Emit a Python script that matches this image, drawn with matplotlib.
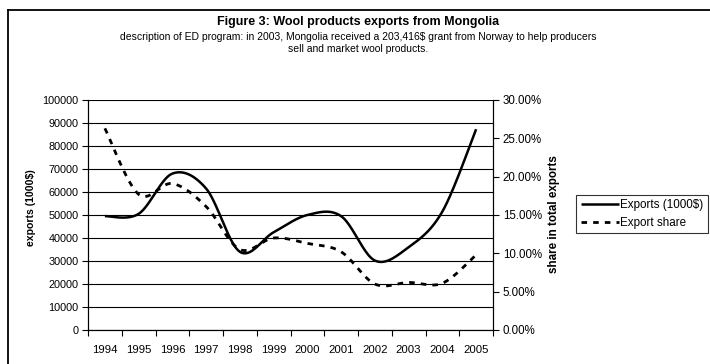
import numpy as np
import matplotlib
matplotlib.use("Agg")
import matplotlib.pyplot as plt
from matplotlib.lines import Line2D
from matplotlib.ticker import FixedLocator, FuncFormatter

plt.rcParams['font.family'] = ['Liberation Sans', 'DejaVu Sans']

years = ['1994', '1995', '1996', '1997', '1998', '1999',
         '2000', '2001', '2002', '2003', '2004', '2005']
exports = [49500, 50500, 68000, 61500, 34000, 42500,
           50000, 49500, 30200, 36000, 51500, 87300]
export_share = [0.263, 0.177, 0.191, 0.161, 0.105, 0.120,
                0.113, 0.102, 0.060, 0.062, 0.061, 0.098]

title = 'Figure 3: Wool products exports from Mongolia'
subtitle = ('description of ED program: in 2003, Mongolia received a 203,416$ grant from Norway to help producers\n'
            'sell and market wool products.')


def smooth(xs, ys, n=40):
    """Catmull-Rom style smoothing through every point (spreadsheet 'smoothed line')."""
    xs = np.asarray(xs, float)
    ys = np.asarray(ys, float)
    px = np.concatenate([[xs[0]], xs, [xs[-1]]])
    py = np.concatenate([[ys[0]], ys, [ys[-1]]])
    out_x, out_y = [], []
    t = np.linspace(0, 1, n)
    for i in range(1, len(px) - 2):
        p0 = np.array([px[i], py[i]])
        p3 = np.array([px[i + 1], py[i + 1]])
        c1 = p0 + (np.array([px[i + 1], py[i + 1]]) - np.array([px[i - 1], py[i - 1]])) / 6
        c2 = p3 - (np.array([px[i + 2], py[i + 2]]) - np.array([px[i], py[i]])) / 6
        b = ((1 - t) ** 3)[:, None] * p0 + (3 * (1 - t) ** 2 * t)[:, None] * c1 \
            + (3 * (1 - t) * t ** 2)[:, None] * c2 + (t ** 3)[:, None] * p3
        out_x.extend(b[:, 0] if i == 1 else b[1:, 0])
        out_y.extend(b[:, 1] if i == 1 else b[1:, 1])
    return np.array(out_x), np.array(out_y)


fig = plt.figure(figsize=(7.1, 3.64), dpi=100)
W, H = 710, 364
ax = fig.add_axes([88 / W, 1 - 330 / H, (493 - 88) / W, (330 - 100) / H])
ax2 = ax.twinx()

xpos = np.arange(len(years)) + 0.5

sx, sy = smooth(xpos, exports)
l1, = ax.plot(sx, sy, color='black', lw=1.8, solid_capstyle='butt', zorder=3)
sx2, sy2 = smooth(xpos, export_share)
l2, = ax2.plot(sx2, sy2, color='black', lw=2.0, dashes=(2.0, 2.2), zorder=3)

ax.set_xlim(0, len(years))
ax.set_ylim(0, 100000)
ax2.set_ylim(0, 0.30)

ax.xaxis.set_major_locator(FixedLocator(np.arange(len(years) + 1)))
ax.xaxis.set_minor_locator(FixedLocator(xpos))
ax.set_xticklabels([])
ax.set_xticklabels(years, minor=True)
ax.tick_params(axis='x', which='major', direction='out', length=4, width=0.8, color='black')
ax.tick_params(axis='x', which='minor', length=0, pad=10.5, labelsize=8.2)

ax.set_yticks(np.arange(0, 100001, 10000))
ax.yaxis.set_major_formatter(FuncFormatter(lambda v, p: f'{int(v)}'))
ax.tick_params(axis='y', direction='out', length=4, width=0.8, labelsize=7.8, pad=3)
ax.grid(axis='y', color='black', lw=0.8)
ax.set_axisbelow(True)

ax2.set_yticks(np.arange(0, 0.301, 0.05))
ax2.yaxis.set_major_formatter(FuncFormatter(lambda v, p: f'{v * 100:.2f}%'))
ax2.tick_params(axis='y', direction='out', length=4, width=0.8, labelsize=8.3, pad=3)

for a in (ax, ax2):
    a.spines['top'].set_visible(False)
    for s in ('left', 'right', 'bottom'):
        a.spines[s].set_linewidth(0.8)
        a.spines[s].set_color('black')

ax.set_ylabel('exports (1000$)', fontsize=7.6, fontweight='bold')
ax.yaxis.set_label_coords(-52 / 405, (330 - 208) / 230)
ax2.set_ylabel('share in total exports', fontsize=8.4, fontweight='bold', rotation=90)
ax2.yaxis.set_label_coords((548 - 88) / 405, (330 - 214) / 230)

fig.text(358 / W, 1 - 22 / H, title, ha='center', va='center', fontsize=9, fontweight='bold')
fig.text(358 / W, 1 - 43.5 / H, subtitle, ha='center', va='center', fontsize=7.5, linespacing=1.25)

leg = fig.legend([l1, l2], ['Exports (1000$)', 'Export share'],
                 loc='center left', bbox_to_anchor=(576 / W, 1 - 214 / H),
                 frameon=True, fancybox=False, shadow=False, fontsize=8.4,
                 handlelength=3.3, handletextpad=0.1, borderpad=0.4,
                 labelspacing=0.45, borderaxespad=0)
leg.get_frame().set_edgecolor('black')
leg.get_frame().set_linewidth(0.8)

# outer chart border (left and top edges)
fig.add_artist(Line2D([8 / W, 8 / W], [0, 1 - 9.5 / H], transform=fig.transFigure,
                      color='black', lw=1.3))
fig.add_artist(Line2D([8 / W, 1], [1 - 9.5 / H, 1 - 9.5 / H], transform=fig.transFigure,
                      color='black', lw=1.3))

fig.savefig('out.png', dpi=100, facecolor='white')
